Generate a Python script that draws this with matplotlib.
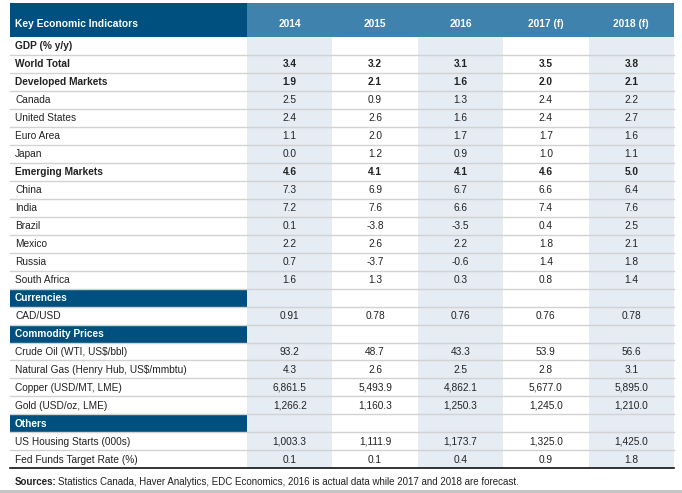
import matplotlib
matplotlib.use("Agg")
import matplotlib.pyplot as plt
from matplotlib.patches import Rectangle

plt.rcParams['font.family'] = ['Liberation Sans Narrow', 'Liberation Sans', 'DejaVu Sans']

years = ['2014', '2015', '2016', '2017 (f)', '2018 (f)']

labels = ['GDP (% y/y)', 'World Total', 'Developed Markets', 'Canada', 'United States',
          'Euro Area', 'Japan', 'Emerging Markets', 'China', 'India', 'Brazil', 'Mexico',
          'Russia', 'South Africa', 'Currencies', 'CAD/USD', 'Commodity Prices',
          'Crude Oil (WTI, US$/bbl)', 'Natural Gas (Henry Hub, US$/mmbtu)',
          'Copper (USD/MT, LME)', 'Gold (USD/oz, LME)', 'Others',
          'US Housing Starts (000s)', 'Fed Funds Target Rate (%)']

# row kind: g = group label (bold, no values), b = bold, n = normal, s = section bar
kinds = ['g', 'b', 'b', 'n', 'n', 'n', 'n', 'b', 'n', 'n', 'n', 'n', 'n', 'n',
         's', 'n', 's', 'n', 'n', 'n', 'n', 's', 'n', 'n']

v2014 = ['', '3.4', '1.9', '2.5', '2.4', '1.1', '0.0', '4.6', '7.3', '7.2', '0.1', '2.2', '0.7', '1.6',
         '', '0.91', '', '93.2', '4.3', '6,861.5', '1,266.2', '', '1,003.3', '0.1']
v2015 = ['', '3.2', '2.1', '0.9', '2.6', '2.0', '1.2', '4.1', '6.9', '7.6', '-3.8', '2.6', '-3.7', '1.3',
         '', '0.78', '', '48.7', '2.6', '5,493.9', '1,160.3', '', '1,111.9', '0.1']
v2016 = ['', '3.1', '1.6', '1.3', '1.6', '1.7', '0.9', '4.1', '6.7', '6.6', '-3.5', '2.2', '-0.6', '0.3',
         '', '0.76', '', '43.3', '2.5', '4,862.1', '1,250.3', '', '1,173.7', '0.4']
v2017 = ['', '3.5', '2.0', '2.4', '2.4', '1.7', '1.0', '4.6', '6.6', '7.4', '0.4', '1.8', '1.4', '0.8',
         '', '0.76', '', '53.9', '2.8', '5,677.0', '1,245.0', '', '1,325.0', '0.9']
v2018 = ['', '3.8', '2.1', '2.2', '2.7', '1.6', '1.1', '5.0', '6.4', '7.6', '2.5', '2.1', '1.8', '1.4',
         '', '0.78', '', '56.6', '3.1', '5,895.0', '1,210.0', '', '1,425.0', '1.8']
values = [v2014, v2015, v2016, v2017, v2018]

navy = '#00507f'
head_blue = '#3f82ae'
shade = '#e5ecf3'
grid = '#d2d2d2'
txt = '#222222'

W, H = 682, 493
fig = plt.figure(figsize=(W / 100, H / 100), dpi=100)
ax = fig.add_axes([0, 0, 1, 1])
ax.set_xlim(0, W)
ax.set_ylim(H, 0)
ax.axis('off')

left, lab_right, right = 10, 247, 674
col_w = (right - lab_right) / len(years)
head_top, head_bot = 3, 37
row_h = (468.3 - head_bot) / len(labels)
table_bot = head_bot + row_h * len(labels)

# header
ax.add_patch(Rectangle((left, head_top), lab_right - left, head_bot - head_top, color=navy, lw=0))
ax.add_patch(Rectangle((lab_right, head_top), right - lab_right, head_bot - head_top, color=head_blue, lw=0))
ax.text(left + 5, 24, 'Key Economic Indicators', color='white', fontsize=7.4,
        fontweight='bold', va='center', ha='left')
for j, y in enumerate(years):
    cx = lab_right + col_w * (j + 0.5)
    ax.text(cx, 24, y, color='white', fontsize=7.4, fontweight='bold', va='center', ha='center')

# shaded columns
for j in range(len(years)):
    if j % 2 == 0:
        ax.add_patch(Rectangle((lab_right + col_w * j, head_bot), col_w, table_bot - head_bot,
                               color=shade, lw=0, zorder=0))

# rows
for i, (lab, kind) in enumerate(zip(labels, kinds)):
    top = head_bot + row_h * i
    cy = top + row_h / 2 + 0.5
    if kind == 's':
        ax.add_patch(Rectangle((left, top), lab_right - left, row_h, color=navy, lw=0, zorder=1))
        ax.text(left + 5, cy, lab, color='white', fontsize=7.3, fontweight='bold',
                va='center', ha='left', zorder=3)
    else:
        bold = kind in ('g', 'b')
        ax.text(left + 5, cy, lab, color=txt, fontsize=7.3,
                fontweight='bold' if bold else 'normal', va='center', ha='left', zorder=3)
        for j, col in enumerate(values):
            cx = lab_right + col_w * (j + 0.5)
            ax.text(cx, cy, col[i], color=txt, fontsize=7.3,
                    fontweight='bold' if kind == 'b' else 'normal',
                    va='center', ha='center', zorder=3)
    if i < len(labels) - 1:
        ax.plot([left, right], [top + row_h, top + row_h], color=grid, lw=1, zorder=2)

ax.plot([left, right], [table_bot, table_bot], color='#111111', lw=1.2, zorder=4)

src = ax.text(left + 5, 482, 'Sources:', color=txt, fontsize=7, fontweight='bold', va='center', ha='left')
fig.canvas.draw()
bb = src.get_window_extent()
ax.text(bb.x1 + 1.5, 482, 'Statistics Canada, Haver Analytics, EDC Economics, 2016 is actual data while '
        '2017 and 2018 are forecast.', color=txt, fontsize=7, va='center', ha='left')

ax.add_patch(Rectangle((0, 489.5), W, H - 489.5, color='#c6c6c6', lw=0))

fig.savefig('out.png', dpi=100)
